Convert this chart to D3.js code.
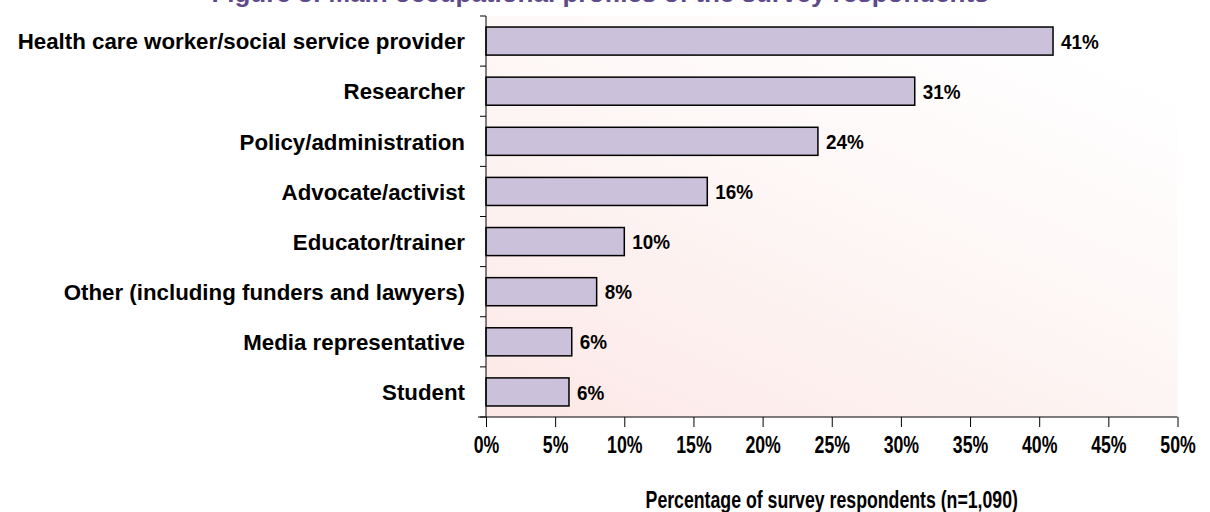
<!DOCTYPE html>
<html><head><meta charset="utf-8">
<script src="https://cdn.jsdelivr.net/npm/d3@7"></script>
<style>
html,body{margin:0;padding:0;background:#fff;}
svg{display:block;font-family:Arial,"Liberation Sans",sans-serif;}
</style></head>
<body>
<svg id="chart" width="1210" height="512"></svg>
<script>
const titleText = "Figure 3: Main occupational profiles of the survey respondents";
const categories = ["Health care worker/social service provider","Researcher","Policy/administration","Advocate/activist","Educator/trainer","Other (including funders and lawyers)","Media representative","Student"];
const values = [41, 31, 24, 16, 10, 8, 6.2, 6.0];
const xTicks = [0,5,10,15,20,25,30,35,40,45,50];
const xTitle = "Percentage of survey respondents (n=1,090)";

const svg = d3.select("#chart");
const L = 486, R = 1177.5, T = 16, B = 417;

const x = d3.scaleLinear().domain([0,50]).range([L,R]);
const y = d3.scaleBand().domain(categories).range([T,B]).paddingInner(0.44).paddingOuter(0.22);

const defs = svg.append("defs");
const g = defs.append("linearGradient").attr("id","bg").attr("x1","0").attr("y1","1").attr("x2","0.75").attr("y2","0");
g.append("stop").attr("offset","0").attr("stop-color","#fce8e6");
g.append("stop").attr("offset","0.55").attr("stop-color","#fdf6f5");
g.append("stop").attr("offset","1").attr("stop-color","#ffffff");

svg.append("rect").attr("x",L).attr("y",T).attr("width",R-L).attr("height",B-T).attr("fill","url(#bg)");

// title (mostly clipped at top in the reference)
svg.append("text").attr("x",600).attr("y",2).attr("text-anchor","middle")
  .attr("font-size",26).attr("font-weight","bold").attr("fill","#5f4b8b").text(titleText);

// bars
svg.append("g").selectAll("rect").data(values).join("rect")
  .attr("x",x(0)).attr("y",(d,i)=>y(categories[i]))
  .attr("width",d=>x(d)-x(0)).attr("height",y.bandwidth())
  .attr("fill","#ccc1da").attr("stroke","#000").attr("stroke-width",1.5);

// value labels
svg.append("g").selectAll("text").data(values).join("text")
  .attr("transform",(d,i)=>`translate(${x(d)+8},${y(categories[i])+y.bandwidth()/2}) scale(0.9,1)`)
  .attr("dy","0.36em").attr("font-size",21).attr("font-weight","bold").attr("fill","#000")
  .text(d=>Math.round(d)+"%");

// y axis
const step = (B-T)/categories.length;
const yAxis = svg.append("g");
yAxis.append("line").attr("x1",L).attr("x2",L).attr("y1",T).attr("y2",B).attr("stroke","#000").attr("stroke-width",1);
yAxis.selectAll("line.t").data(d3.range(categories.length+1)).join("line").attr("class","t")
  .attr("x1",L-6).attr("x2",L).attr("y1",i=>T+i*step).attr("y2",i=>T+i*step).attr("stroke","#000");
yAxis.selectAll("text").data(categories).join("text")
  .attr("transform",d=>`translate(465,${y(d)+y.bandwidth()/2}) scale(0.97,1)`)
  .attr("dy","0.36em").attr("text-anchor","end").attr("font-size",23).attr("font-weight","bold").text(d=>d);

// x axis
const xAxis = svg.append("g").attr("transform",`translate(0,${B})`)
  .call(d3.axisBottom(x).tickValues(xTicks).tickSize(10).tickPadding(10).tickFormat(d=>d+"%"));
xAxis.select(".domain").remove();
xAxis.append("line").attr("x1",L-8).attr("x2",R).attr("y1",0).attr("y2",0).attr("stroke","#000");
xAxis.selectAll(".tick line").attr("stroke","#000");
xAxis.selectAll(".tick text").attr("font-size",23).attr("font-weight","bold").attr("fill","#000")
  .attr("font-family","Arial, 'Liberation Sans', sans-serif")
  .attr("transform","scale(0.77,1)");

svg.append("text").attr("transform",`translate(${(L+R)/2},508) scale(0.77,1)`).attr("text-anchor","middle")
  .attr("font-size",23).attr("font-weight","bold").text(xTitle);
</script>
</body></html>
